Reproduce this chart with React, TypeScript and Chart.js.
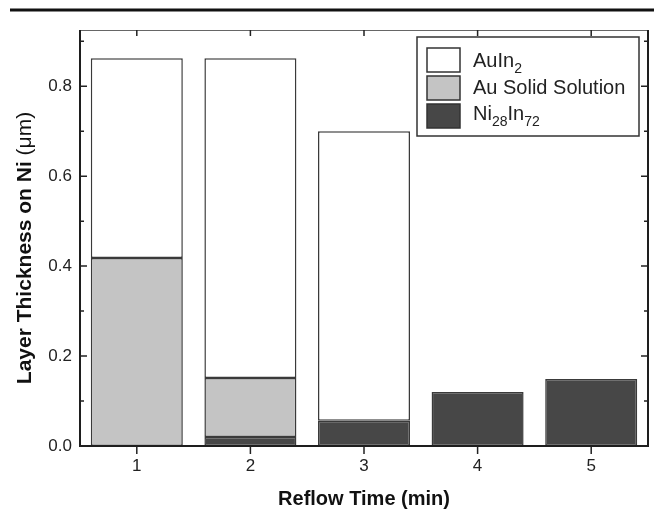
import React, { useEffect, useRef } from "react";
import { Chart, registerables } from "chart.js";

Chart.register(...registerables);

// ---- data ----
const categories = ["1", "2", "3", "4", "5"];
const ni28In72 = [null, 0.02, 0.056, 0.12, 0.149];
const auSolidSolution = [0.418, 0.131, null, null, null];
const auIn2 = [0.444, 0.711, 0.644, null, null];
const yMajorTicks = [0, 0.2, 0.4, 0.6, 0.8];
const yMinorTicks = [0.1, 0.3, 0.5, 0.7, 0.9];

const xTitle = "Reflow Time (min)";
const yTitleBold = "Layer Thickness on Ni ";
const yTitleUnit = "(\u03bcm)";

const COLOR_WHITE = "#ffffff";
const COLOR_GRAY = "#c4c4c4";
const COLOR_DARK = "#474747";

// legend entries: text parts [text, isSubscript]
const legendTexts: [string, boolean][][] = [
  [["AuIn", false], ["2", true]],
  [["Au Solid Solution", false]],
  [["Ni", false], ["28", true], ["In", false], ["72", true]],
];
const legendColors = [COLOR_WHITE, COLOR_GRAY, COLOR_DARK];

const FONT = "'Liberation Sans', Arial, Helvetica, sans-serif";
const TEXT = "#222222";

const framePlugin = {
  id: "frameTicks",
  beforeDraw(chart: any) {
    const { ctx, width } = chart;
    ctx.save();
    ctx.fillStyle = "#111";
    ctx.fillRect(10, 8.5, width - 10, 3);
    ctx.restore();
  },
  afterDraw(chart: any) {
    const { ctx } = chart;
    ctx.save();
    ctx.translate(25, 248);
    ctx.rotate(-Math.PI / 2);
    ctx.fillStyle = "#111";
    ctx.textBaseline = "middle";
    ctx.textAlign = "left";
    const boldFont = `bold 21px ${FONT}`;
    const regFont = `21px ${FONT}`;
    ctx.font = boldFont;
    const w1 = ctx.measureText(yTitleBold).width;
    ctx.font = regFont;
    const w2 = ctx.measureText(yTitleUnit).width;
    let x = -(w1 + w2) / 2;
    ctx.font = boldFont;
    ctx.fillText(yTitleBold, x, 0);
    x += w1;
    ctx.font = regFont;
    ctx.fillText(yTitleUnit, x, 0);
    ctx.restore();
  },
  afterDatasetsDraw(chart: any) {
    const { ctx, chartArea } = chart;
    const { left, right, top, bottom } = chartArea;
    const xs = chart.scales.x;
    const ys = chart.scales.y;
    ctx.save();
    ctx.strokeStyle = "#666";
    ctx.lineWidth = 1;
    ctx.beginPath();
    ctx.moveTo(left, top + 0.5);
    ctx.lineTo(right, top + 0.5);
    ctx.stroke();
    ctx.strokeStyle = "#1e1e1e";
    ctx.lineWidth = 2;
    ctx.beginPath();
    ctx.moveTo(left, top);
    ctx.lineTo(left, bottom);
    ctx.lineTo(right, bottom);
    ctx.lineTo(right, top);
    ctx.stroke();
    ctx.lineWidth = 1.5;
    ctx.strokeStyle = "#222";
    const yTick = (v: number, len: number) => {
      const py = ys.getPixelForValue(v);
      ctx.beginPath();
      ctx.moveTo(left, py);
      ctx.lineTo(left + len, py);
      ctx.moveTo(right, py);
      ctx.lineTo(right - len, py);
      ctx.stroke();
    };
    yMajorTicks.forEach((v) => yTick(v, 7));
    yMinorTicks.forEach((v) => yTick(v, 4));
    categories.forEach((_, i) => {
      const px = xs.getPixelForValue(i);
      ctx.beginPath();
      ctx.moveTo(px, bottom);
      ctx.lineTo(px, bottom + 8);
      ctx.moveTo(px, top);
      ctx.lineTo(px, top + 6);
      ctx.stroke();
    });
    ctx.restore();
  },
};

const legendPlugin = {
  id: "customLegend",
  afterDatasetsDraw(chart: any) {
    const { ctx, chartArea } = chart;
    const boxR = chartArea.right - 9;
    const boxT = chartArea.top + 7;
    const boxL = boxR - 222;
    const boxH = 99;
    ctx.save();
    ctx.fillStyle = "#fff";
    ctx.fillRect(boxL, boxT, boxR - boxL, boxH);
    ctx.strokeStyle = "#333";
    ctx.lineWidth = 1.5;
    ctx.strokeRect(boxL, boxT, boxR - boxL, boxH);
    legendTexts.forEach((parts, i) => {
      const sy = boxT + 11 + i * 28;
      ctx.fillStyle = legendColors[i];
      ctx.fillRect(boxL + 10, sy, 33, 24);
      ctx.strokeStyle = "#333";
      ctx.lineWidth = 1.5;
      ctx.strokeRect(boxL + 10, sy, 33, 24);
      let x = boxL + 56;
      const base = boxT + 30 + i * 26.7;
      ctx.fillStyle = TEXT;
      ctx.textBaseline = "alphabetic";
      ctx.textAlign = "left";
      parts.forEach(([t, sub]) => {
        ctx.font = sub ? `14px ${FONT}` : `20px ${FONT}`;
        ctx.fillText(t, x, sub ? base + 6 : base);
        x += ctx.measureText(t).width;
      });
    });
    ctx.restore();
  },
};

export default function App() {
  const ref = useRef<HTMLCanvasElement | null>(null);
  useEffect(() => {
    if (!ref.current) return;
    const barCommon = {
      borderColor: "#3a3a3a",
      borderWidth: 1.5,
      borderSkipped: false as any,
      categoryPercentage: 1,
      barPercentage: 0.81,
    };
    const chart = new Chart(ref.current, {
      type: "bar",
      data: {
        labels: categories,
        datasets: [
          { label: "Ni28In72", data: ni28In72 as any, backgroundColor: COLOR_DARK, ...barCommon },
          { label: "Au Solid Solution", data: auSolidSolution as any, backgroundColor: COLOR_GRAY, ...barCommon },
          { label: "AuIn2", data: auIn2 as any, backgroundColor: COLOR_WHITE, ...barCommon },
        ],
      },
      options: {
        animation: false,
        responsive: false,
        maintainAspectRatio: false,
        layout: { padding: { top: 30, right: 6, left: 0, bottom: 0 } },
        plugins: { legend: { display: false }, tooltip: { enabled: false } },
        scales: {
          x: {
            stacked: true,
            grid: { display: false, drawTicks: false },
            border: { display: false },
            ticks: { color: TEXT, font: { family: FONT, size: 17 }, padding: 10 },
            title: {
              display: true,
              text: xTitle,
              color: "#111",
              font: { family: FONT, size: 20, weight: "bold", lineHeight: 1.2 },
              padding: { top: 0, bottom: 1 },
            },
            afterFit: (s: any) => {
              s.height = 66;
            },
          },
          y: {
            stacked: true,
            min: 0,
            max: 0.925,
            grid: { display: false, drawTicks: false },
            border: { display: false },
            ticks: {
              stepSize: 0.2,
              includeBounds: false,
              color: TEXT,
              font: { family: FONT, size: 17 },
              padding: 8,
              callback: (v: any) => Number(v).toFixed(1),
            },
            title: { display: false },
            afterFit: (s: any) => {
              s.width = 80;
            },
          },
        },
      },
      plugins: [framePlugin, legendPlugin],
    });
    return () => chart.destroy();
  }, []);
  return (
    <div style={{ position: "fixed", left: 0, top: 0, width: 654, height: 512, background: "#fff" }}>
      <canvas ref={ref} width={654} height={512} style={{ display: "block" }} />
    </div>
  );
}
